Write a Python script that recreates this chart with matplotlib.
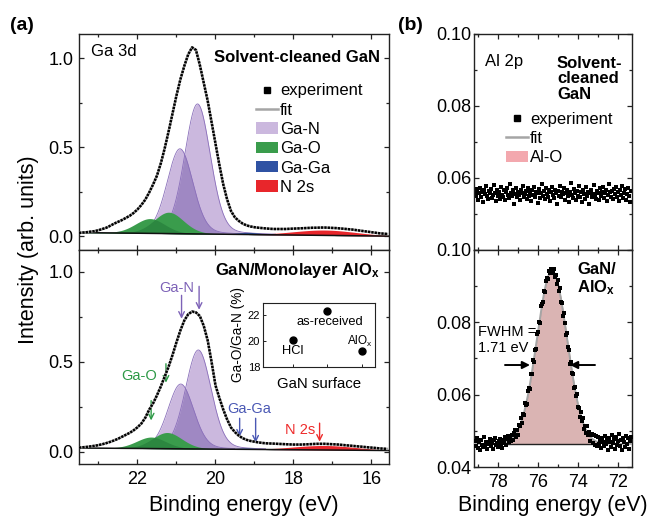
import numpy as np
import matplotlib
matplotlib.use("Agg")
import matplotlib.pyplot as plt
from matplotlib.patches import Patch
from matplotlib.lines import Line2D
from matplotlib.ticker import MultipleLocator, NullFormatter

plt.rcParams['font.family'] = ['Liberation Sans', 'DejaVu Sans']
plt.rcParams['mathtext.fontset'] = 'custom'
plt.rcParams['mathtext.rm'] = 'Liberation Sans'
plt.rcParams['mathtext.bf'] = 'Liberation Sans:bold'
plt.rcParams['mathtext.it'] = 'Liberation Sans:italic'

# ---------------- data ----------------
# Ga 3d spectra: binding energy grid start / step (eV)
ga3d_start = 23.5
ga3d_step = 0.1
ga3d_solvent = [0.018, 0.020, 0.022, 0.025, 0.028, 0.033, 0.040, 0.047, 0.058, 0.070,
                0.080, 0.090, 0.102, 0.114, 0.130, 0.150, 0.175, 0.205, 0.245, 0.290,
                0.340, 0.410, 0.495, 0.590, 0.690, 0.790, 0.880, 0.955, 1.020, 1.060,
                1.045, 0.960, 0.860, 0.760, 0.640, 0.520, 0.400, 0.290, 0.205, 0.140,
                0.105, 0.085, 0.070, 0.060, 0.054, 0.050, 0.047, 0.045, 0.043, 0.041,
                0.040, 0.040, 0.040, 0.040, 0.041, 0.042, 0.043, 0.044, 0.045, 0.046,
                0.047, 0.047, 0.048, 0.048, 0.047, 0.046, 0.045, 0.043, 0.041, 0.039,
                0.037, 0.034, 0.031, 0.028, 0.025, 0.022, 0.019, 0.016, 0.014, 0.012]
ga3d_alox = [0.024, 0.026, 0.028, 0.031, 0.034, 0.038, 0.043, 0.049, 0.056, 0.064,
             0.073, 0.084, 0.095, 0.106, 0.120, 0.137, 0.158, 0.190, 0.235, 0.270,
             0.315, 0.365, 0.420, 0.475, 0.540, 0.610, 0.675, 0.730, 0.765, 0.780,
             0.775, 0.755, 0.700, 0.620, 0.500, 0.370, 0.300, 0.235, 0.180, 0.135,
             0.110, 0.090, 0.076, 0.067, 0.061, 0.057, 0.053, 0.050, 0.048, 0.047,
             0.046, 0.045, 0.044, 0.043, 0.042, 0.041, 0.041, 0.041, 0.042, 0.043,
             0.044, 0.045, 0.045, 0.045, 0.044, 0.043, 0.042, 0.040, 0.038, 0.036,
             0.034, 0.032, 0.030, 0.028, 0.026, 0.024, 0.022, 0.020, 0.018, 0.017]

# fitted components: Ga-N(1), Ga-N(2), Ga-O(1), Ga-O(2), Ga-Ga, N 2s
comp_names = ['Ga-N', 'Ga-N', 'Ga-O', 'Ga-O', 'Ga-Ga', 'N 2s']
solvent_centers = [20.46, 20.91, 21.20, 21.68, 19.15, 17.20]
solvent_heights = [0.730, 0.477, 0.120, 0.083, 0.012, 0.030]
solvent_fwhm = [0.78, 0.78, 0.90, 0.90, 0.70, 1.90]
solvent_baseline = [0.020, 0.000]   # at high-BE edge, low-BE edge
alox_centers = [20.44, 20.89, 21.24, 21.65, 19.20, 17.20]
alox_heights = [0.550, 0.360, 0.090, 0.064, 0.008, 0.025]
alox_fwhm = [0.78, 0.78, 0.90, 0.90, 0.70, 1.90]
alox_baseline = [0.022, 0.008]
comp_eta = [0.15, 0.15, 0.15, 0.15, 0.0, 0.0]

# inset: Ga-O/Ga-N ratio
surface_labels = ['HCl', 'as-received', 'AlO$_\\mathrm{x}$']
surface_ratio = [20.1, 22.3, 19.2]

# Al 2p spectra
al_start = 79.15
al_step = 0.05
al_solvent = [0.0562, 0.0551, 0.0569, 0.0540, 0.0558, 0.0573, 0.0547, 0.0560, 0.0532, 0.0566,
              0.0555, 0.0578, 0.0549, 0.0541, 0.0563, 0.0557, 0.0570, 0.0545, 0.0552, 0.0581,
              0.0559, 0.0536, 0.0566, 0.0550, 0.0561, 0.0543, 0.0575, 0.0554, 0.0548, 0.0567,
              0.0539, 0.0560, 0.0572, 0.0552, 0.0545, 0.0584, 0.0558, 0.0549, 0.0566, 0.0528,
              0.0556, 0.0571, 0.0547, 0.0562, 0.0553, 0.0538, 0.0568, 0.0559, 0.0579, 0.0546,
              0.0555, 0.0564, 0.0541, 0.0572, 0.0551, 0.0560, 0.0535, 0.0567, 0.0554, 0.0576,
              0.0548, 0.0562, 0.0557, 0.0531, 0.0569, 0.0545, 0.0558, 0.0583, 0.0550, 0.0563,
              0.0542, 0.0571, 0.0556, 0.0547, 0.0566, 0.0537, 0.0560, 0.0575, 0.0552, 0.0544,
              0.0568, 0.0558, 0.0529, 0.0565, 0.0551, 0.0579, 0.0546, 0.0561, 0.0555, 0.0572,
              0.0540, 0.0557, 0.0568, 0.0549, 0.0533, 0.0562, 0.0585, 0.0553, 0.0545, 0.0570,
              0.0558, 0.0539, 0.0564, 0.0551, 0.0577, 0.0547, 0.0560, 0.0532, 0.0566, 0.0555,
              0.0543, 0.0574, 0.0550, 0.0562, 0.0527, 0.0559, 0.0568, 0.0546, 0.0556, 0.0580,
              0.0552, 0.0541, 0.0565, 0.0557, 0.0538, 0.0571, 0.0549, 0.0561, 0.0576, 0.0544,
              0.0558, 0.0567, 0.0535, 0.0553, 0.0582, 0.0560, 0.0548, 0.0563, 0.0542, 0.0570,
              0.0555, 0.0574, 0.0547, 0.0561, 0.0537, 0.0566, 0.0552, 0.0578, 0.0545, 0.0559,
              0.0569, 0.0540, 0.0556, 0.0573, 0.0550, 0.0534, 0.0564]
al_alox = [0.0473, 0.0458, 0.0481, 0.0452, 0.0468, 0.0447, 0.0476, 0.0462, 0.0455, 0.0484,
           0.0461, 0.0470, 0.0450, 0.0469, 0.0464, 0.0478, 0.0457, 0.0466, 0.0449, 0.0474,
           0.0480, 0.0460, 0.0467, 0.0454, 0.0471, 0.0477, 0.0463, 0.0453, 0.0476, 0.0467,
           0.0483, 0.0461, 0.0478, 0.0487, 0.0468, 0.0481, 0.0472, 0.0489, 0.0476, 0.0494,
           0.0501, 0.0484, 0.0502, 0.0489, 0.0517, 0.0513, 0.0536, 0.0521, 0.0547, 0.0544,
           0.0577, 0.0572, 0.0575, 0.0610, 0.0618, 0.0616, 0.0657, 0.0658, 0.0696, 0.0690,
           0.0724, 0.0725, 0.0768, 0.0772, 0.0802, 0.0798, 0.0844, 0.0851, 0.0857, 0.0886,
           0.0883, 0.0915, 0.0922, 0.0920, 0.0943, 0.0936, 0.0948, 0.0944, 0.0937, 0.0948,
           0.0925, 0.0930, 0.0906, 0.0918, 0.0888, 0.0894, 0.0857, 0.0854, 0.0817, 0.0826,
           0.0797, 0.0766, 0.0770, 0.0731, 0.0723, 0.0686, 0.0691, 0.0661, 0.0658, 0.0619,
           0.0622, 0.0596, 0.0602, 0.0566, 0.0563, 0.0538, 0.0551, 0.0526, 0.0535, 0.0505,
           0.0512, 0.0494, 0.0512, 0.0489, 0.0497, 0.0473, 0.0488, 0.0492, 0.0466, 0.0488,
           0.0462, 0.0485, 0.0458, 0.0483, 0.0464, 0.0476, 0.0452, 0.0480, 0.0469, 0.0457,
           0.0486, 0.0463, 0.0474, 0.0448, 0.0479, 0.0470, 0.0455, 0.0488, 0.0466, 0.0477,
           0.0451, 0.0483, 0.0461, 0.0472, 0.0490, 0.0459, 0.0475, 0.0446, 0.0481, 0.0468,
           0.0456, 0.0487, 0.0463, 0.0479, 0.0450, 0.0472, 0.0484]
alo_center = 75.30
alo_height = 0.0478
alo_fwhm = 1.78
alo_baseline = 0.0464

# ---------------- styling ----------------
C_GAN = '#cbb8de'
C_GAN_OV = '#9f88c3'
C_GAN_EDGE = '#8a6fba'
C_GAO = '#3a9c4c'
C_GAO_OV = '#2c8740'
C_GAGA = '#2f52a3'
C_N2S = '#e8262b'
C_FIT = '#a5a5a5'
C_ALO = '#dab4b3'
C_ALO_LEG = '#f3a8ae'
SP = '#222222'


def pseudo_voigt(e, center, height, fwhm, eta):
    u = (e - center) / fwhm
    g = np.exp(-4 * np.log(2) * u ** 2)
    l = 1.0 / (1 + 4 * u ** 2)
    return height * ((1 - eta) * g + eta * l)


fig = plt.figure(figsize=(6.51, 5.19), dpi=100)
W, H = 651.0, 519.0


def axes_px(x0, y0, x1, y1):
    return fig.add_axes([x0 / W, 1 - y1 / H, (x1 - x0) / W, (y1 - y0) / H])


ax_a1 = axes_px(79, 34, 389, 250)
ax_a2 = axes_px(79, 250, 389, 464)
ax_b1 = axes_px(474, 34, 632, 250)
ax_b2 = axes_px(474, 250, 632, 467)


def style(ax, xmaj, xmin, ymaj, ymin):
    for s in ax.spines.values():
        s.set_color(SP)
        s.set_linewidth(1.0)
    ax.xaxis.set_major_locator(MultipleLocator(xmaj))
    ax.xaxis.set_minor_locator(MultipleLocator(xmin))
    ax.yaxis.set_major_locator(MultipleLocator(ymaj))
    ax.yaxis.set_minor_locator(MultipleLocator(ymin))
    ax.tick_params(which='both', direction='in', top=True, right=True,
                   colors=SP, labelcolor='black', labelsize=13, width=0.9)
    ax.tick_params(which='major', length=3.5, pad=4)
    ax.tick_params(which='minor', length=2.5)
    ax.tick_params(axis='x', pad=5)


e_fine = np.linspace(23.6, 15.4, 1641)


def draw_ga3d(ax, signal, centers, heights, fwhm, baseline):
    e_exp = ga3d_start - ga3d_step * np.arange(len(signal))
    base = baseline[1] + (baseline[0] - baseline[1]) * (e_fine - e_exp[-1]) / (e_exp[0] - e_exp[-1])
    comps = [pseudo_voigt(e_fine, c, h, w, et) for c, h, w, et in zip(centers, heights, fwhm, comp_eta)]
    # Ga-N
    ax.fill_between(e_fine, base, base + comps[1], color=C_GAN, lw=0, zorder=1)
    ax.fill_between(e_fine, base, base + comps[0], color=C_GAN, lw=0, zorder=1)
    ax.fill_between(e_fine, base, base + np.minimum(comps[0], comps[1]), color=C_GAN_OV, lw=0, zorder=1.1)
    for k in (0, 1):
        y = np.where(comps[k] > 0.004, base + comps[k], np.nan)
        ax.plot(e_fine, y, color=C_GAN_EDGE, lw=0.6, zorder=1.2)
    # Ga-O
    ax.fill_between(e_fine, base, base + comps[3], color=C_GAO, lw=0, zorder=2)
    ax.fill_between(e_fine, base, base + comps[2], color=C_GAO, lw=0, zorder=2)
    ax.fill_between(e_fine, base, base + np.minimum(comps[2], comps[3]), color=C_GAO_OV, lw=0, zorder=2.1)
    # Ga-Ga, N 2s
    ax.fill_between(e_fine, base, base + comps[4], color=C_GAGA, lw=0, zorder=2)
    ax.fill_between(e_fine, base, base + comps[5], color=C_N2S, lw=0, zorder=2)
    ax.plot(e_fine, base, color='#111111', lw=1.1, zorder=3)
    ax.plot(e_exp, signal, color=C_FIT, lw=1.8, zorder=4)
    ax.plot(e_exp, signal, color='black', lw=1.8, ls=(0, (0.9, 0.45)), zorder=5)
    ax.set_xlim(23.5, 15.55)


draw_ga3d(ax_a1, ga3d_solvent, solvent_centers, solvent_heights, solvent_fwhm, solvent_baseline)
draw_ga3d(ax_a2, ga3d_alox, alox_centers, alox_heights, alox_fwhm, alox_baseline)
ax_a1.set_ylim(-0.078, 1.135)
ax_a2.set_ylim(-0.067, 1.122)
for ax in (ax_a1, ax_a2):
    style(ax, 2, 1, 0.5, 0.25)
    ax.yaxis.set_major_formatter(matplotlib.ticker.FormatStrFormatter('%.1f'))
ax_a1.xaxis.set_major_formatter(NullFormatter())

ax_a1.text(0.039, 0.917, 'Ga 3d', transform=ax_a1.transAxes, fontsize=12, va='center', ha='left')
ax_a1.text(0.971, 0.889, 'Solvent-cleaned GaN', transform=ax_a1.transAxes, fontsize=12,
           fontweight='bold', va='center', ha='right')
ax_a2.text(0.971, 0.905, r'GaN/Monolayer AlO$_\mathbf{x}$', transform=ax_a2.transAxes, fontsize=12,
           fontweight='bold', va='center', ha='right')

leg_handles = [Line2D([], [], marker='s', ls='none', color='black', ms=4.5),
               Line2D([], [], color=C_FIT, lw=1.8),
               Patch(facecolor=C_GAN, edgecolor='none'),
               Patch(facecolor=C_GAO, edgecolor='none'),
               Patch(facecolor=C_GAGA, edgecolor='none'),
               Patch(facecolor=C_N2S, edgecolor='none')]
leg_labels = ['experiment', 'fit', 'Ga-N', 'Ga-O', 'Ga-Ga', 'N 2s']
ax_a1.legend(leg_handles, leg_labels, loc='upper left', bbox_to_anchor=(0.572, 0.772),
             frameon=False, fontsize=12, handlelength=1.3, handleheight=0.65,
             handletextpad=0.12, labelspacing=0.26, borderpad=0, borderaxespad=0)

# annotations in lower panel
C_T_GAN = '#7d62b7'
C_T_GAO = '#2d9946'
C_T_GAGA = '#4a58b4'
C_T_N2S = '#ee2b2b'
arrow_kw = dict(arrowstyle='->', lw=1.0, shrinkA=0, shrinkB=0)
ax_a2.text(21.0, 0.91, 'Ga-N', color=C_T_GAN, fontsize=10.5, ha='center', va='center')
for x0, y0, y1 in [(20.87, 0.87, 0.74), (20.42, 0.92, 0.79)]:
    ax_a2.annotate('', xy=(x0, y1), xytext=(x0, y0), arrowprops=dict(color=C_T_GAN, **arrow_kw))
ax_a2.text(21.95, 0.42, 'Ga-O', color=C_T_GAO, fontsize=10.5, ha='center', va='center')
for x0, y0, y1 in [(21.27, 0.49, 0.385), (21.65, 0.285, 0.175)]:
    ax_a2.annotate('', xy=(x0, y1), xytext=(x0, y0), arrowprops=dict(color=C_T_GAO, **arrow_kw))
ax_a2.text(19.14, 0.237, 'Ga-Ga', color=C_T_GAGA, fontsize=10.5, ha='center', va='center')
for x0, y0, y1 in [(19.38, 0.187, 0.085), (18.97, 0.187, 0.052)]:
    ax_a2.annotate('', xy=(x0, y1), xytext=(x0, y0), arrowprops=dict(color=C_T_GAGA, **arrow_kw))
ax_a2.text(17.84, 0.122, 'N 2s', color=C_T_N2S, fontsize=10.5, ha='center', va='center')
ax_a2.annotate('', xy=(17.33, 0.057), xytext=(17.33, 0.16), arrowprops=dict(color=C_T_N2S, **arrow_kw))

# inset
ax_in = axes_px(263, 303, 375, 367)
xs = np.arange(1, len(surface_ratio) + 1)
ax_in.plot(xs, surface_ratio, 'o', color='black', ms=5, ls='none')
ax_in.set_xlim(0.13, 3.38)
ax_in.set_ylim(18, 22.9)
ax_in.set_yticks([18, 20, 22])
ax_in.set_xticks(xs)
ax_in.set_xticklabels([])
ax_in.tick_params(direction='in', labelsize=8, length=2.5, pad=2, colors=SP, labelcolor='black', width=0.7)
for s in ax_in.spines.values():
    s.set_linewidth(0.8)
    s.set_color(SP)
ax_in.set_ylabel('Ga-O/Ga-N (%)', fontsize=9.8, labelpad=2)
ax_in.set_xlabel('GaN surface', fontsize=10.8, labelpad=5)
ax_in.text(1.0, 19.2, surface_labels[0], fontsize=9.3, ha='center', va='center')
ax_in.text(2.07, 21.45, surface_labels[1], fontsize=9.3, ha='center', va='center')
ax_in.text(2.95, 19.95, surface_labels[2], fontsize=8.5, ha='center', va='center')

# Al 2p
e_al = al_start - al_step * np.arange(len(al_solvent))
ax_b1.plot(e_al, al_solvent, 's', color='black', ms=2.4, mew=0, ls='none')
e_al2 = al_start - al_step * np.arange(len(al_alox))
e_al_fine = np.linspace(79.3, 71.2, 811)
alo_peak = pseudo_voigt(e_al_fine, alo_center, alo_height, alo_fwhm, 0.0)
mask = alo_peak > 0.0004
ax_b2.fill_between(e_al_fine[mask], alo_baseline, alo_baseline + alo_peak[mask], color=C_ALO,
                   lw=0.5, edgecolor='#c49a99', zorder=1)
ax_b2.plot(e_al_fine[mask], np.full(mask.sum(), alo_baseline), color='#222222', lw=1.0, zorder=2)
ax_b2.plot(e_al_fine, alo_baseline + alo_peak, color=C_FIT, lw=1.4, zorder=3)
ax_b2.plot(e_al2, al_alox, 's', color='black', ms=2.4, mew=0, ls='none', zorder=4)

for ax in (ax_b1, ax_b2):
    ax.set_xlim(79.2, 71.3)
    ax.set_ylim(0.04, 0.10)
    style(ax, 2, 1, 0.02, 0.01)
    ax.yaxis.set_major_formatter(matplotlib.ticker.FormatStrFormatter('%.2f'))
    ax.tick_params(axis='y', pad=2)
ax_b1.set_yticks([0.06, 0.08, 0.10])
ax_b1.xaxis.set_major_formatter(NullFormatter())

ax_b1.text(0.07, 0.872, 'Al 2p', transform=ax_b1.transAxes, fontsize=12, va='center', ha='left')
ax_b1.text(0.525, 0.90, 'Solvent-\ncleaned\nGaN', transform=ax_b1.transAxes, fontsize=12,
           fontweight='bold', va='top', ha='left', linespacing=1.05)
leg_b = [Line2D([], [], marker='s', ls='none', color='black', ms=4.5),
         Line2D([], [], color=C_FIT, lw=1.8),
         Patch(facecolor=C_ALO_LEG, edgecolor='none')]
ax_b1.legend(leg_b, ['experiment', 'fit', 'Al-O'], loc='upper left', bbox_to_anchor=(0.205, 0.641),
             frameon=False, fontsize=12, handlelength=1.3, handleheight=0.65,
             handletextpad=0.12, labelspacing=0.26, borderpad=0, borderaxespad=0)

ax_b2.text(0.652, 0.945, 'GaN/\nAlO$_\\mathbf{x}$', transform=ax_b2.transAxes, fontsize=12,
           fontweight='bold', va='top', ha='left', linespacing=1.1)
ax_b2.text(0.025, 0.655, 'FWHM =\n1.71 eV', transform=ax_b2.transAxes, fontsize=10.5,
           va='top', ha='left', linespacing=1.15)
fw_kw = dict(arrowstyle='-|>', lw=1.4, color='black', shrinkA=0, shrinkB=0, mutation_scale=11)
ax_b2.annotate('', xy=(76.4, 0.0682), xytext=(77.65, 0.0682), arrowprops=fw_kw)
ax_b2.annotate('', xy=(74.4, 0.0682), xytext=(73.15, 0.0682), arrowprops=fw_kw)

# figure-level labels
fig.text(22 / W, 1 - 26 / H, '(a)', fontsize=14, fontweight='bold', ha='center', va='center')
fig.text(410 / W, 1 - 26 / H, '(b)', fontsize=14, fontweight='bold', ha='center', va='center')
fig.text(29 / W, 1 - 250 / H, 'Intensity (arb. units)', fontsize=15.5, rotation=90,
         ha='center', va='center')
fig.text(244 / W, 1 - 505 / H, 'Binding energy (eV)', fontsize=15.5, ha='center', va='center')
fig.text(553 / W, 1 - 505 / H, 'Binding energy (eV)', fontsize=15.5, ha='center', va='center')

fig.savefig('out.png', dpi=100)
